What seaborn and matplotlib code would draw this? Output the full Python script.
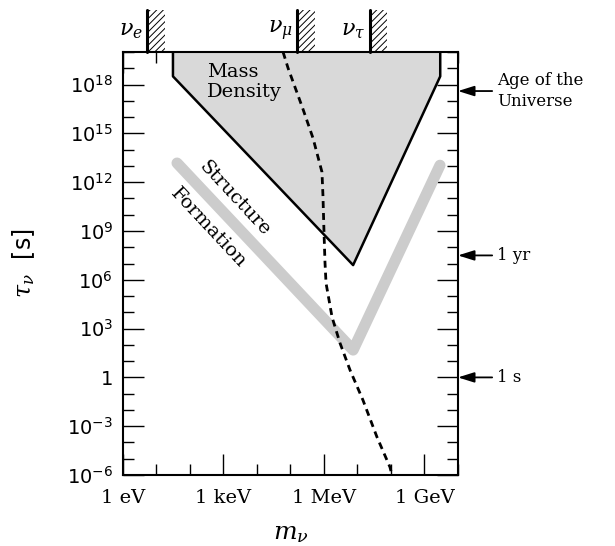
import seaborn as sns
import matplotlib.pyplot as plt
from matplotlib.patches import Rectangle
from matplotlib.ticker import NullFormatter
from matplotlib.transforms import blended_transform_factory

# %%
# neutrino mass m_nu [eV] vs lifetime tau_nu [s]
md_mass = [31, 31, 7.4e6, 2.95e9, 2.95e9]          # mass density bound
md_tau = [1e20, 3.2e18, 8.0e6, 3.2e18, 1e20]

sf_mass = [41, 7.4e6, 2.9e9]                       # structure formation
sf_tau = [1.5e13, 48, 1.1e13]

bound_mass = [6.0e4, 8.5e4, 2.3e5, 4.7e5, 8.7e5, 9.3e5, 1.0e6, 1.07e6,
              1.15e6, 1.74e6, 3.0e6, 6.0e6, 1.45e7, 3.8e7, 9.3e7, 1.07e8]
bound_tau = [1e20, 1e19, 3.6e16, 5.1e14, 4.2e12, 1.6e11, 8.7e8, 1.2e7,
             6.3e5, 5.1e3, 1.3e2, 2.8, 4.1e-2, 2.2e-4, 3.1e-6, 1e-6]

lab_names = [r'$\nu_e$', r'$\nu_\mu$', r'$\nu_\tau$']
lab_limits = [5.2, 1.6e5, 2.3e7]

ref_names = ['Age of the\nUniverse', '1 yr', '1 s']
ref_tau = [4e17, 3.15e7, 1.0]

x_ticks = [1, 1e3, 1e6, 1e9]
x_labels = ['1 eV', '1 keV', '1 MeV', '1 GeV']
x_minor = [1, 1e1, 1e2, 1e3, 1e4, 1e5, 1e6, 1e7, 1e8, 1e9, 1e10]
y_ticks = [1e-6, 1e-3, 1, 1e3, 1e6, 1e9, 1e12, 1e15, 1e18]
y_labels = [r'$10^{-6}$', r'$10^{-3}$', '1', r'$10^{3}$', r'$10^{6}$',
            r'$10^{9}$', r'$10^{12}$', r'$10^{15}$', r'$10^{18}$']
y_minor = [10.0 ** k for k in range(-6, 21)]

# %%
sns.set_style("ticks")
plt.rcParams['font.family'] = ['DejaVu Sans']
plt.rcParams['mathtext.fontset'] = 'custom'
plt.rcParams['mathtext.rm'] = 'DejaVu Sans'
plt.rcParams['mathtext.it'] = 'DejaVu Serif:italic'
plt.rcParams['mathtext.bf'] = 'DejaVu Sans:bold'
plt.rcParams['hatch.linewidth'] = 0.7
plt.rcParams['axes.edgecolor'] = 'black'
plt.rcParams['text.color'] = 'black'
plt.rcParams['axes.labelcolor'] = 'black'
plt.rcParams['xtick.color'] = 'black'
plt.rcParams['ytick.color'] = 'black'

fig = plt.figure(figsize=(6.15, 5.46), dpi=100)
ax = fig.add_axes([0.2, 0.130, 0.5447, 0.7747])
ax.set_xscale('log')
ax.set_yscale('log')

# mass density region
ax.fill(md_mass, md_tau, facecolor='#d9d9d9', edgecolor='none', zorder=1)
sns.lineplot(x=md_mass, y=md_tau, sort=False, estimator=None, color='black',
             lw=1.8, ax=ax, zorder=2)

# structure formation band
sns.lineplot(x=sf_mass, y=sf_tau, sort=False, estimator=None, color='#cccccc',
             lw=8, solid_capstyle='round', solid_joinstyle='round', ax=ax, zorder=2)

# dashed bound
sns.lineplot(x=bound_mass, y=bound_tau, sort=False, estimator=None, color='black',
             lw=2.0, linestyle=(0, (2.5, 1.8)), ax=ax, zorder=3)

ax.set_xlim(1, 1e10)
ax.set_ylim(1e-6, 1e20)

ax.set_xticks(x_ticks)
ax.set_xticklabels(x_labels, fontfamily='DejaVu Serif', fontsize=14)
ax.set_xticks(x_minor, minor=True)
ax.set_yticks(y_ticks)
ax.set_yticklabels(y_labels, fontsize=14)
ax.set_yticks(y_minor, minor=True)
ax.xaxis.set_minor_formatter(NullFormatter())
ax.yaxis.set_minor_formatter(NullFormatter())
ax.tick_params(which='both', direction='in', top=True, right=True, width=1.0)
ax.tick_params(which='major', length=15)
ax.tick_params(which='minor', length=8)
ax.tick_params(axis='x', which='major', pad=10)
ax.tick_params(axis='y', which='major', pad=7)
for s in ax.spines.values():
    s.set_linewidth(1.5)

ax.set_xlabel(r'$m_\nu$', fontsize=18)
ax.xaxis.set_label_coords(0.5, -0.108)
ax.set_ylabel(r'$\tau_\nu$  [s]', fontsize=17)
ax.yaxis.set_label_coords(-0.257, 0.5)

# text on the regions
ax.text(0.251, 0.953, 'Mass', transform=ax.transAxes, ha='left', va='center',
        fontfamily='DejaVu Serif', fontsize=14)
ax.text(0.251, 0.905, 'Density', transform=ax.transAxes, ha='left', va='center',
        fontfamily='DejaVu Serif', fontsize=14)
ax.text(0.334, 0.655, 'Structure', transform=ax.transAxes, ha='center', va='center',
        rotation=-47, rotation_mode='anchor', fontfamily='DejaVu Serif', fontsize=14)
ax.text(0.254, 0.584, 'Formation', transform=ax.transAxes, ha='center', va='center',
        rotation=-47, rotation_mode='anchor', fontfamily='DejaVu Serif', fontsize=14)

# laboratory limits above the frame
top = blended_transform_factory(ax.transData, ax.transAxes)
for name, m0 in zip(lab_names, lab_limits):
    ax.add_patch(Rectangle((m0, 1.0), m0 * 2.4, 0.1, transform=top, clip_on=False,
                           facecolor='none', edgecolor='black', lw=0, hatch='/////'))
    ax.plot([m0, m0], [1.0, 1.1], transform=top, clip_on=False, color='black', lw=2.2)
    ax.annotate(name, xy=(m0, 1.0), xycoords=top, xytext=(-3, 15),
                textcoords='offset points', ha='right', va='center', fontsize=16)

# reference times on the right
right = blended_transform_factory(ax.transAxes, ax.transData)
for name, t in zip(ref_names, ref_tau):
    ax.annotate('', xy=(1.0, t), xycoords=right, xytext=(1.102, t), textcoords=right,
                arrowprops=dict(arrowstyle='-|>,head_length=0.7,head_width=0.22',
                                color='black', lw=1.3, shrinkA=0, shrinkB=0,
                                mutation_scale=14),
                annotation_clip=False)
    ax.text(1.116, t, name, transform=right, ha='left', va='center',
            fontfamily='DejaVu Serif', fontsize=12, linespacing=1.25)

fig.savefig('out.png', dpi=100)
